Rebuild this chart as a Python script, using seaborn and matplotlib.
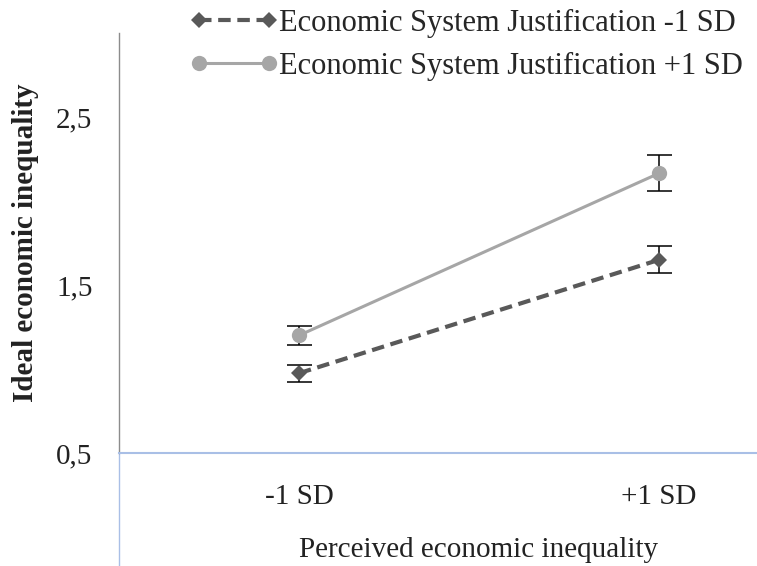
import matplotlib
matplotlib.use('Agg')
import matplotlib.pyplot as plt
import seaborn as sns
import pandas as pd

# values
categories = ['-1 SD', '+1 SD']
low_sj = [0.975, 1.65]
low_sj_err = [0.05, 0.08]
high_sj = [1.20, 2.165]
high_sj_err = [0.058, 0.107]
series_names = ['Economic System Justification -1 SD', 'Economic System Justification +1 SD']
y_ticks = [0.5, 1.5, 2.5]
y_tick_labels = ['0,5', '1,5', '2,5']

sns.set_style('white')
plt.rcParams['font.family'] = ['Liberation Serif', 'DejaVu Serif']

df = pd.DataFrame({
    'x': [0, 1, 0, 1],
    'y': low_sj + high_sj,
    'err': low_sj_err + high_sj_err,
    'series': [series_names[0]] * 2 + [series_names[1]] * 2,
})

fig = plt.figure(figsize=(7.57, 5.66), dpi=100)
ax = fig.add_axes([0.1572, 0.1996, 0.951, 0.742])

dark = '#595959'
light = '#A6A6A6'
fs = 21

d0 = df[df['series'] == series_names[0]]
d1 = df[df['series'] == series_names[1]]
sns.lineplot(data=d0, x='x', y='y', ax=ax, color=dark, linewidth=3, linestyle=(0, (3, 1.6)),
             marker='D', markersize=8, markeredgewidth=0, label=series_names[0])
sns.lineplot(data=d1, x='x', y='y', ax=ax, color=light, linewidth=2.2, linestyle='-',
             marker='o', markersize=11, markeredgewidth=0, label=series_names[1])
for d in (d0, d1):
    ax.errorbar(d['x'], d['y'], yerr=d['err'], fmt='none', ecolor='black',
                elinewidth=1.1, capsize=9, capthick=1.1, zorder=1)

ax.set_xlim(-0.5, 1.5)
ax.set_ylim(0.5, 3.0)
ax.set_xticks([0, 1])
ax.set_xticklabels(categories)
ax.set_yticks(y_ticks)
ax.set_yticklabels(y_tick_labels)
ax.tick_params(axis='both', length=0, labelsize=fs, colors='#222222')
ax.tick_params(axis='x', pad=22)
ax.tick_params(axis='y', pad=19)

for s in ['top', 'right']:
    ax.spines[s].set_visible(False)
ax.spines['left'].set_color('#8C8C8C')
ax.spines['left'].set_linewidth(1)
ax.spines['bottom'].set_color('#A9BFE6')
ax.spines['bottom'].set_linewidth(1.5)
# the vertical axis keeps going under the horizontal one
ax.plot([0, 0], [0, -0.31], transform=ax.transAxes, color='#A9BFE6', lw=1, clip_on=False)

ax.set_xlabel('Perceived economic inequality', fontsize=fs, labelpad=20, color='#222222')
ax.set_ylabel('Ideal economic inequality', fontsize=fs, fontweight='bold', labelpad=12, color='#222222')

ax.get_legend().remove()
h, l = ax.get_legend_handles_labels()
fig.legend(h, l, loc='upper right', bbox_to_anchor=(0.997, 1.006), frameon=False, fontsize=22,
           numpoints=2, handlelength=2.9, handletextpad=0.0, borderaxespad=0.0, labelspacing=0.45)

plt.savefig('out.png', dpi=100)
